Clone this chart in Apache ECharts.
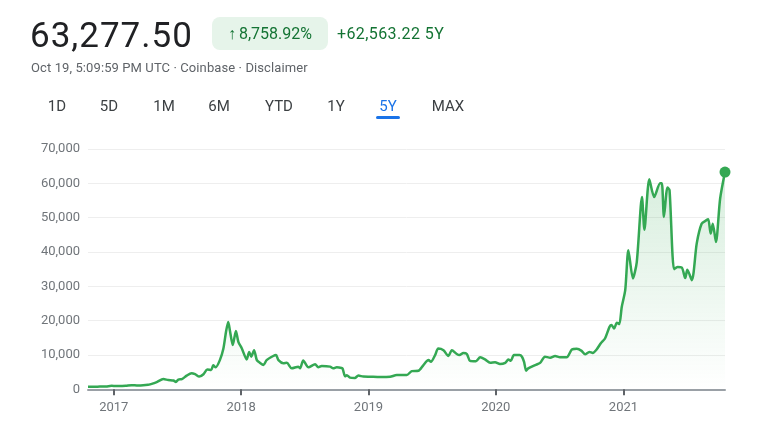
<!DOCTYPE html>
<html>
<head>
<meta charset="utf-8">
<script src="https://cdn.jsdelivr.net/npm/echarts@6/dist/echarts.min.js"></script>
<style>
  html, body { margin:0; padding:0; background:#fff; }
  #wrap { position:relative; width:768px; height:432px; overflow:hidden; font-family: Roboto, "Noto Sans", Arial, sans-serif; }
  #chart { position:absolute; left:0; top:0; width:768px; height:432px; }
  .abs { position:absolute; white-space:nowrap; }
  #price { left:30px; top:18px; font-size:35px; line-height:35px; color:#202124; letter-spacing:1px; }
  #badge { left:212px; top:17px; width:116px; height:33px; background:#e6f4ea; border-radius:8px; color:#137333; font-size:16px; display:flex; align-items:center; justify-content:center; }
  #change { left:337px; top:24px; font-size:16px; line-height:20px; color:#137333; letter-spacing:0.4px; }
  #sub { left:31px; top:60px; font-size:13px; line-height:16px; color:#5f6368; letter-spacing:0.1px; }
  .tab { position:absolute; top:97px; font-size:15px; line-height:18px; color:#3c4043; transform:translateX(-50%); }
  .tab.active { color:#1a73e8; }
  #uline { left:376px; top:116px; width:24px; height:3px; background:#1a73e8; border-radius:2px; }
</style>
</head>
<body>
<div id="wrap">
  <div id="chart"></div>
  <div id="price" class="abs">63,277.50</div>
  <div id="badge" class="abs"><span style="margin-right:3px">↑</span>8,758.92%</div>
  <div id="change" class="abs">+62,563.22 5Y</div>
  <div id="sub" class="abs">Oct 19, 5:09:59 PM UTC · Coinbase · Disclaimer</div>
  <div id="tabs"></div>
  <div id="uline" class="abs"></div>
</div>
<script>
// ---- data ----
const headerPrice = "63,277.50";
const tabLabels = ["1D", "5D", "1M", "6M", "YTD", "1Y", "5Y", "MAX"];
const yTicks = [0, 10000, 20000, 30000, 40000, 50000, 60000, 70000];

const dates = [
  "2016-10-19","2016-11-08","2016-11-22","2016-12-10","2016-12-26","2017-01-07","2017-01-19","2017-02-05",
  "2017-02-21","2017-03-11","2017-03-26","2017-04-09","2017-04-15","2017-05-04","2017-05-23","2017-06-06",
  "2017-06-21","2017-06-28","2017-07-05","2017-07-15","2017-07-29","2017-08-12","2017-08-22","2017-09-03",
  "2017-09-15","2017-09-26","2017-10-07","2017-10-13","2017-10-20","2017-11-01","2017-11-11","2017-11-19",
  "2017-11-25","2017-11-30","2017-12-08","2017-12-17","2017-12-24","2018-01-03","2018-01-17","2018-01-24",
  "2018-01-30","2018-02-07","2018-02-15","2018-02-24","2018-03-06","2018-03-15","2018-04-03","2018-04-11",
  "2018-04-18","2018-05-02","2018-05-12","2018-05-26","2018-06-14","2018-06-19","2018-06-28","2018-07-13",
  "2018-08-01","2018-08-10","2018-08-20","2018-09-13","2018-09-22","2018-10-02","2018-10-16","2018-10-19",
  "2018-10-26","2018-10-31","2018-11-09","2018-11-23","2018-12-03","2018-12-17","2019-01-06","2019-02-03",
  "2019-03-04","2019-03-23","2019-04-21","2019-05-05","2019-05-24","2019-06-07","2019-06-22","2019-06-29",
  "2019-07-11","2019-07-20","2019-08-04","2019-08-18","2019-08-28","2019-09-11","2019-09-19","2019-09-30",
  "2019-10-10","2019-10-19","2019-11-05","2019-11-17","2019-12-01","2019-12-16","2019-12-30","2020-01-13",
  "2020-01-28","2020-02-06","2020-02-13","2020-02-22","2020-03-09","2020-03-16","2020-03-22","2020-03-28",
  "2020-04-03","2020-04-23","2020-05-07","2020-05-21","2020-06-05","2020-06-19","2020-07-03","2020-07-22",
  "2020-08-06","2020-08-20","2020-09-03","2020-09-13","2020-09-25","2020-10-05","2020-10-16","2020-10-28",
  "2020-11-09","2020-11-22","2020-11-28","2020-12-05","2020-12-13","2020-12-20","2020-12-27","2021-01-06",
  "2021-01-15","2021-01-28","2021-02-08","2021-02-23","2021-03-02","2021-03-16","2021-03-30","2021-04-16",
  "2021-04-21","2021-04-27","2021-05-07","2021-05-13","2021-05-26","2021-06-05","2021-06-17","2021-06-27",
  "2021-07-03","2021-07-16","2021-07-30","2021-08-13","2021-08-26","2021-09-01","2021-09-08","2021-09-14",
  "2021-09-23","2021-10-05","2021-10-19"
];
const prices = [
  720, 750, 800, 850, 1000, 950, 950, 1050,
  1200, 1100, 1150, 1300, 1450, 2100, 3000, 2700,
  2550, 2100, 2850, 2950, 4000, 4700, 4400, 3700,
  4400, 5800, 5600, 7000, 6400, 8500, 11800, 17000,
  19600, 17000, 12900, 17000, 13800, 11900, 8700, 10900,
  9500, 11400, 8500, 7700, 7100, 8500, 9700, 9970,
  8500, 7600, 7700, 6100, 6600, 6100, 8400, 6400,
  7300, 6400, 6800, 6600, 6100, 6400, 6200, 6000,
  3800, 4100, 3400, 3300, 4000, 3700, 3650, 3570,
  3650, 4150, 4150, 5300, 5400, 7000, 8500, 8000,
  9970, 11900, 11400, 9700, 11400, 10300, 9970, 10600,
  10300, 8300, 8200, 9300, 8700, 7700, 7900, 7350,
  7700, 8700, 8300, 9970, 9970, 9500, 8000, 5400,
  6100, 7060, 7700, 9500, 9200, 9700, 9300, 9300,
  11600, 11800, 11200, 10200, 10900, 10600, 11600, 13400,
  14800, 18200, 18700, 17700, 19400, 19000, 24000, 28900,
  40500, 32300, 37000, 56000, 46500, 61200, 56000, 60000,
  60000, 50200, 58800, 58000, 35000, 35600, 35500, 32400,
  34800, 31800, 42500, 48200, 49200, 49500, 45350, 48200,
  42900, 55500, 63277.5
];

// ---- header tabs ----
const tabCenters = [57, 109, 164, 219, 279, 336, 388, 448];
const tabsEl = document.getElementById('tabs');
tabLabels.forEach((t, i) => {
  const d = document.createElement('div');
  d.className = 'tab' + (t === '5Y' ? ' active' : '');
  d.style.left = tabCenters[i] + 'px';
  d.textContent = t;
  tabsEl.appendChild(d);
});

// ---- chart ----
const chart = echarts.init(document.getElementById('chart'), null, { renderer: 'canvas' });
const seriesData = dates.map((d, i) => [d, prices[i]]);
const DAY = 24 * 3600 * 1000;

chart.setOption({
  animation: false,
  grid: { left: 88, right: 43, top: 149, bottom: 42.7 },
  xAxis: {
    type: 'time',
    min: '2016-10-19',
    max: '2021-10-19',
    minInterval: 365 * DAY,
    maxInterval: 366 * DAY,
    axisLine: { show: true, lineStyle: { color: '#9aa0a6', width: 2 } },
    axisTick: { show: true, length: 6, lineStyle: { color: '#5f6368', width: 2 } },
    axisLabel: {
      formatter: v => String(new Date(v).getFullYear()),
      showMinLabel: false, showMaxLabel: false,
      color: '#70757a', fontSize: 13, fontFamily: 'Roboto', margin: 12
    },
    splitLine: { show: false }
  },
  yAxis: {
    type: 'value',
    min: yTicks[0], max: yTicks[yTicks.length - 1], interval: 10000,
    axisLine: { show: false },
    axisTick: { show: false },
    axisLabel: {
      color: '#70757a', fontSize: 13, fontFamily: 'Roboto', margin: 8,
      formatter: v => v.toLocaleString('en-US')
    },
    splitLine: { lineStyle: { color: '#eeeeee', width: 1 } }
  },
  series: [{
    type: 'line',
    data: seriesData,
    smooth: 0.25,
    showSymbol: false,
    lineStyle: { color: '#34a853', width: 2.5 },
    itemStyle: { color: '#34a853' },
    areaStyle: {
      color: new echarts.graphic.LinearGradient(0, 0, 0, 1, [
        { offset: 0, color: 'rgba(52,168,83,0.28)' },
        { offset: 1, color: 'rgba(52,168,83,0)' }
      ])
    },
    markPoint: {
      symbol: 'circle',
      symbolSize: 11,
      label: { show: false },
      itemStyle: { color: '#34a853' },
      data: [{ coord: seriesData[seriesData.length - 1] }]
    }
  }]
});
</script>
</body>
</html>
